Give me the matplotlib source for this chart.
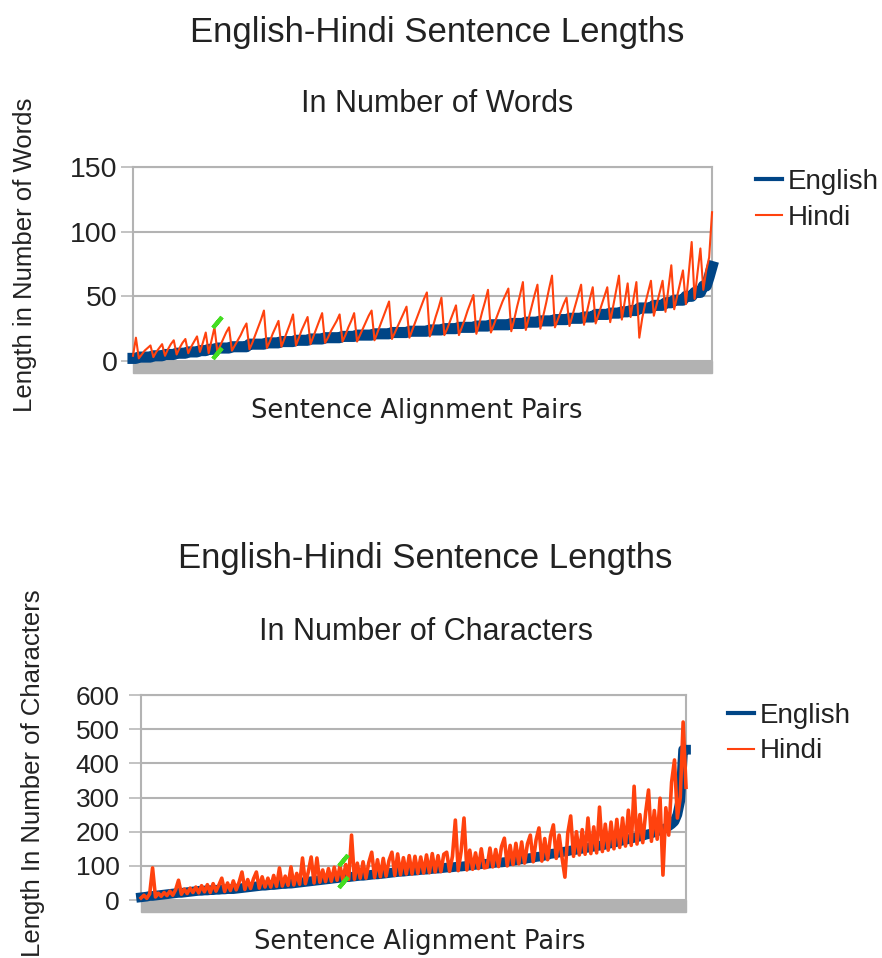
import numpy as np
import matplotlib
matplotlib.use("Agg")
import matplotlib.pyplot as plt
from matplotlib.patches import Rectangle
from matplotlib.lines import Line2D

plt.rcParams['font.family'] = ['Liberation Sans', 'DejaVu Sans']

# ---- data: sentence lengths in words (sorted by English length) ----
words_english = [
    2, 2, 3, 3, 3, 3, 3, 4, 4, 4, 4, 5, 5, 5, 5, 6, 6, 6, 6, 7,
    7, 7, 7, 8, 8, 8, 9, 9, 9, 10, 10, 10, 10, 10, 11, 11, 11, 11, 11, 11,
    13, 13, 13, 13, 13, 13, 14, 14, 14, 14, 14, 15, 15, 15, 15, 15, 16, 16, 16, 16,
    16, 17, 17, 17, 17, 17, 18, 18, 18, 18, 18, 18, 19, 19, 19, 19, 19, 20, 20, 20,
    20, 20, 20, 21, 21, 21, 21, 21, 21, 22, 22, 22, 22, 22, 22, 23, 23, 23, 23, 23,
    23, 23, 24, 24, 24, 24, 24, 25, 25, 25, 25, 25, 26, 26, 26, 26, 26, 26, 27, 27,
    27, 27, 27, 28, 28, 28, 28, 28, 28, 28, 29, 29, 29, 29, 29, 30, 30, 30, 30, 30,
    31, 31, 31, 31, 31, 32, 32, 32, 32, 32, 33, 33, 33, 33, 33, 34, 34, 34, 34, 36,
    36, 36, 36, 36, 37, 37, 37, 37, 38, 38, 38, 39, 39, 39, 41, 41, 41, 41, 41, 43,
    43, 43, 43, 45, 45, 45, 47, 47, 47, 47, 50, 50, 50, 53, 53, 53, 58, 58, 65, 73,
]
words_hindi = [
    4, 18, 2, 5, 8, 10, 12, 3, 7, 10, 13, 4, 9, 13, 16, 5, 10, 14, 17, 6,
    11, 15, 19, 7, 14, 22, 6, 16, 26, 7, 12, 17, 22, 26, 8, 12, 16, 20, 25, 29,
    9, 14, 20, 26, 32, 39, 10, 15, 21, 26, 31, 11, 17, 23, 29, 36, 12, 18, 24, 29,
    34, 13, 19, 25, 31, 37, 14, 18, 23, 27, 31, 36, 15, 20, 26, 31, 37, 15, 20, 25,
    30, 35, 39, 16, 22, 28, 34, 40, 46, 17, 22, 27, 32, 37, 42, 18, 24, 30, 36, 42,
    48, 53, 19, 26, 34, 41, 49, 20, 25, 31, 37, 43, 20, 26, 32, 39, 45, 51, 21, 29,
    38, 46, 55, 22, 28, 34, 40, 46, 51, 56, 23, 32, 42, 51, 61, 24, 33, 42, 51, 59,
    25, 35, 45, 56, 66, 26, 32, 38, 44, 49, 27, 35, 43, 51, 59, 28, 38, 48, 57, 29,
    36, 43, 50, 57, 30, 42, 54, 66, 32, 46, 60, 34, 48, 61, 18, 33, 44, 53, 62, 35,
    44, 53, 62, 38, 56, 74, 40, 50, 60, 70, 44, 68, 92, 48, 68, 87, 55, 70, 80, 115,
]

# ---- data: sentence lengths in characters ----
chars_english = [
    8, 9, 10, 12, 12, 13, 14, 15, 16, 17, 18, 19, 20, 21, 21, 22, 23, 24, 25, 26,
    27, 27, 28, 28, 29, 29, 30, 30, 31, 31, 32, 32, 32, 33, 34, 35, 36, 37, 38, 39,
    40, 41, 42, 42, 43, 44, 44, 45, 46, 47, 47, 48, 48, 49, 50, 51, 52, 53, 54, 55,
    56, 57, 58, 59, 60, 61, 62, 63, 64, 65, 66, 67, 67, 68, 69, 70, 71, 71, 72, 73,
    74, 75, 75, 76, 77, 78, 79, 80, 81, 82, 83, 83, 84, 85, 86, 86, 87, 88, 89, 89,
    90, 91, 92, 92, 93, 94, 95, 95, 96, 97, 98, 98, 99, 100, 101, 102, 103, 104, 105, 106,
    106, 107, 108, 109, 110, 110, 111, 112, 114, 115, 116, 118, 119, 120, 122, 123, 124, 126, 127, 128,
    130, 132, 135, 136, 137, 139, 140, 142, 143, 145, 146, 147, 149, 150, 152, 153, 155, 156, 158, 159,
    160, 162, 164, 166, 168, 170, 172, 174, 176, 178, 180, 182, 184, 186, 188, 191, 193, 195, 198, 201,
    204, 207, 211, 216, 222, 230, 250, 290, 440, 440,
]
chars_hindi = [
    6, 14, 5, 18, 94, 9, 20, 11, 22, 13, 26, 14, 30, 58, 17, 32, 19, 35, 22, 38,
    21, 42, 24, 45, 22, 48, 26, 44, 64, 25, 50, 28, 56, 30, 52, 82, 31, 60, 34, 62,
    82, 35, 68, 38, 64, 38, 72, 40, 94, 41, 70, 43, 97, 44, 78, 46, 123, 48, 82, 126,
    50, 123, 52, 88, 54, 92, 55, 96, 58, 100, 59, 104, 60, 190, 61, 108, 64, 112, 64, 110,
    140, 66, 118, 68, 122, 70, 116, 140, 72, 135, 74, 124, 76, 130, 76, 128, 78, 126, 79, 132,
    80, 136, 82, 130, 83, 134, 140, 84, 128, 234, 86, 142, 240, 88, 146, 90, 138, 92, 150, 94,
    96, 152, 97, 148, 98, 156, 181, 100, 160, 104, 166, 106, 170, 108, 164, 190, 112, 176, 211, 114,
    180, 118, 186, 220, 122, 190, 124, 67, 196, 246, 128, 200, 132, 206, 134, 240, 136, 214, 138, 272,
    142, 222, 146, 228, 150, 236, 154, 240, 158, 263, 160, 333, 164, 250, 168, 256, 322, 172, 262, 178,
    298, 73, 270, 190, 345, 410, 240, 300, 521, 330,
]

# small green marks seen on the original (index, value)
words_marks = ([29, 29], [30, 6])
chars_marks = ([70, 70], [117, 53])

BLUE = '#004586'
ORANGE = '#ff420e'
GRID = '#b3b3b3'
TEXT = '#222222'

fig = plt.figure(figsize=(8.82, 9.58), dpi=100)


def draw_panel(rect, eng, hin, ymax, ystep, marks, ticksize, pad, eng_lw, hin_lw):
    ax = fig.add_axes(rect)
    x = np.arange(len(eng))
    ax.plot(x, eng, color=BLUE, lw=eng_lw, clip_on=False, zorder=3)
    ax.plot(x, hin, color=ORANGE, lw=hin_lw, clip_on=False, zorder=4)
    ax.plot(marks[0], marks[1], ls='none', marker=(2, 2, -40), ms=10,
            mew=3, color='#44dd22', zorder=5)
    ax.set_xlim(0, len(eng) - 1)
    ax.set_ylim(0, ymax)
    ax.set_yticks(np.arange(0, ymax + 1, ystep))
    ax.set_xticks([])
    ax.grid(axis='y', color=GRID, lw=1.5)
    ax.set_axisbelow(True)
    for side in ['left', 'right', 'top']:
        ax.spines[side].set_color(GRID)
        ax.spines[side].set_linewidth(1.5)
    ax.spines['bottom'].set_visible(False)
    ax.tick_params(axis='y', length=9, width=1.1, color=GRID, pad=pad,
                   labelsize=ticksize, labelcolor=TEXT)
    # grey floor below the plot area
    ax.add_patch(Rectangle((0, -0.06), 1, 0.06, transform=ax.transAxes,
                           color='#b2b2b2', clip_on=False, zorder=1))
    return ax


ax1 = draw_panel([0.1508, 0.6232, 0.6565, 0.2025], words_english, words_hindi,
                 150, 50, words_marks, 20.5, 2, 8, 1.5)
ax2 = draw_panel([0.1599, 0.0605, 0.6179, 0.214], chars_english, chars_hindi,
                 600, 100, chars_marks, 19, 6.5, 7, 2.6)

# titles and axis labels
fig.text(0.4955, 0.9656, 'English-Hindi Sentence Lengths', ha='center', va='center',
         fontsize=25, color=TEXT)
fig.text(0.4955, 0.8914, 'In Number of Words', ha='center', va='center',
         fontsize=22, color=TEXT)
fig.text(0.473, 0.571, 'Sentence Alignment Pairs', ha='center', va='center',
         fontsize=18.5, color=TEXT, family='DejaVu Sans')
fig.text(0.0283, 0.7338, 'Length in Number of Words', ha='center', va='center',
         rotation=90, fontsize=18.5, color=TEXT)

fig.text(0.482, 0.4175, 'English-Hindi Sentence Lengths', ha='center', va='center',
         fontsize=25, color=TEXT)
fig.text(0.483, 0.3403, 'In Number of Characters', ha='center', va='center',
         fontsize=22, color=TEXT)
fig.text(0.476, 0.0167, 'Sentence Alignment Pairs', ha='center', va='center',
         fontsize=18.5, color=TEXT, family='DejaVu Sans')
fig.text(0.0374, 0.193, 'Length In Number of Characters', ha='center', va='center',
         rotation=90, fontsize=18.5, color=TEXT)

# legends
handles = [Line2D([], [], color=BLUE, lw=3), Line2D([], [], color=ORANGE, lw=1.5)]
for ax, (lx, ly) in [(ax1, (0.857, 0.8237)), (ax2, (0.825, 0.2667))]:
    ax.legend(handles, ['English', 'Hindi'], loc='upper left',
              bbox_to_anchor=(lx, ly), bbox_transform=fig.transFigure,
              frameon=False, fontsize=20, handlelength=0.95, handletextpad=0.2,
              borderpad=0, borderaxespad=0, labelspacing=0.35,
              labelcolor=TEXT)

fig.savefig('out.png', dpi=100)
